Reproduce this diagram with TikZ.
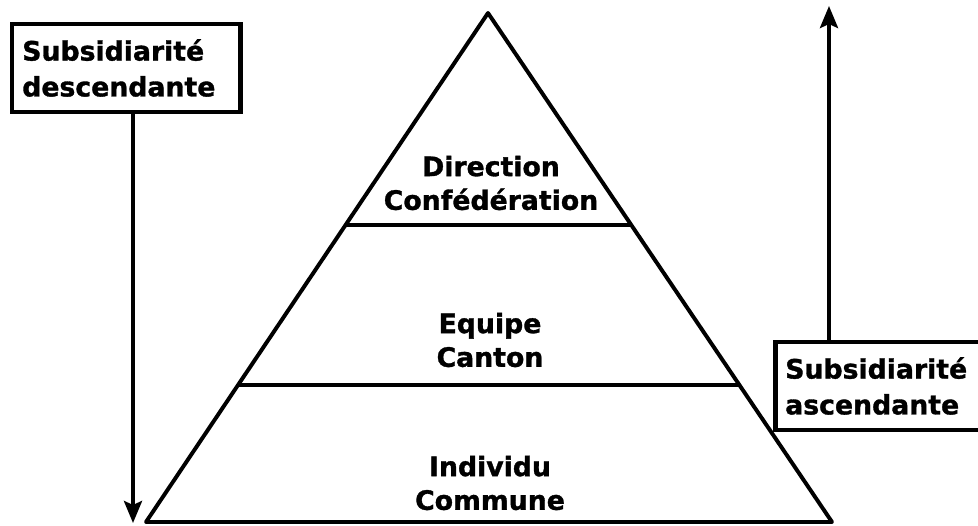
\documentclass[tikz,border=0pt]{standalone}
\usepackage{fontspec}
\setmainfont{DejaVu Sans}[BoldFeatures={FakeBold=1.2}]
\usetikzlibrary{arrows.meta,calc}
\begin{document}
\begin{tikzpicture}[x=0.25mm,y=-0.25mm,line width=2.8pt,
  tier/.style={font=\bfseries\fontsize{19}{24}\selectfont,align=center},
  sidebox/.style={draw,line width=3.2pt,font=\bfseries\fontsize{19}{25.5}\selectfont,align=left,inner xsep=2.5mm,minimum height=22mm,anchor=west},
  tip/.style={-{Stealth[length=5.5mm,width=4.5mm,inset=1mm]}}]
\useasboundingbox (0,0) rectangle (978,526);
\clip (0,0) rectangle (978,526);
% pyramid
\coordinate (apex) at (488,13);
\coordinate (bl) at (146,522);
\coordinate (br) at (832,522);
\draw[line join=round] (bl) -- (apex) -- (br) -- cycle;
\draw ($(apex)!0.4165!(bl)$) -- ($(apex)!0.4165!(br)$);
\draw ($(apex)!0.731!(bl)$) -- ($(apex)!0.731!(br)$);
\node[tier] (dir) at (491,183) {Direction\\Confédération};
\node[tier] (can) at (490,340) {Equipe\\Canton};
\node[tier] (ind) at (490,483) {Individu\\Commune};
% side boxes
\node[sidebox,text width=52mm] (down) at (10,68) {Subsidiarité\\descendante};
\node[sidebox,text width=59mm] (up) at (773,386) {Subsidiarité\\ascendante};
\coordinate (downtip) at (133,523);
\coordinate (uptip) at (829,6);
\draw[tip] (down.south -| downtip) -- (downtip);
\draw[tip] (up.north -| uptip) -- (uptip);
\end{tikzpicture}
\end{document}
